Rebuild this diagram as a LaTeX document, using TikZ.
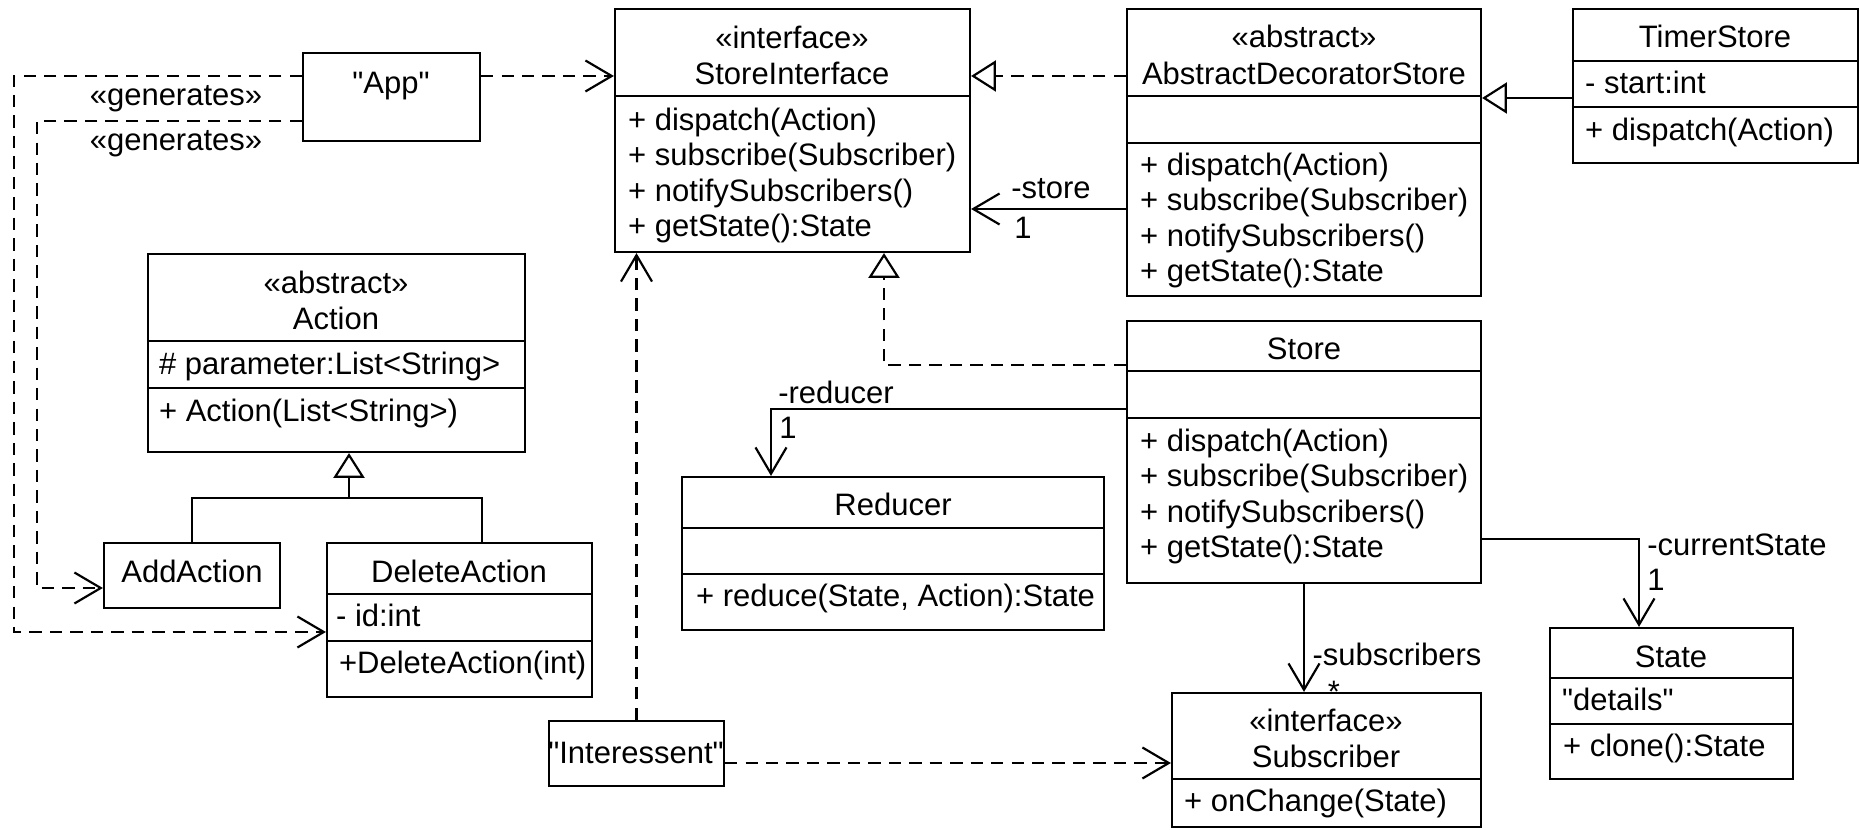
\documentclass[tikz,border=0pt]{standalone}
\usepackage{fontspec}
\setmainfont{Liberation Sans}[Ligatures=TeXOff]
\usetikzlibrary{arrows.meta,fit}
\tikzset{
  uml/.style={
    x=0.01134cm,
    y=-0.01134cm,
    line width=0.7pt,
    font=\fontsize{10pt}{12pt}\selectfont
  },
  uml-box/.style={
    draw=black,
    rectangle,
    inner sep=0pt
  },
  label-text/.style={
    inner sep=0pt,
    text height=0.75em,
    text depth=0.21em
  },
  member/.style={label-text, anchor=west},
  dep/.style={dash pattern=on 4pt off 2.6pt},
  open-head/.style={-{Straight Barb[length=8.5pt,width=10pt]}},
  hollow-head/.style={-{Triangle[open,length=8pt,width=10pt]}}
}

\begin{document}
\begin{tikzpicture}[uml]
  \useasboundingbox (0,0) rectangle (1860,830);
  % class frames
  \node[uml-box, fit={(615,9) (970,252)}] (si) {};
  \node[uml-box, fit={(1127,9) (1481,296)}] (abs) {};
  \node[uml-box, fit={(1573,9) (1858,163)}] (timer) {};
  \node[uml-box, fit={(148,254) (525,452)}] (action) {};
  \node[uml-box, fit={(104,543) (280,608)}] (addact) {};
  \node[uml-box, fit={(327,543) (592,697)}] (delact) {};
  \node[uml-box, fit={(682,477) (1104,630)}] (reducer) {};
  \node[uml-box, fit={(1127,321) (1481,583)}] (store) {};
  \node[uml-box, fit={(1550,628) (1793,779)}] (state) {};
  \node[uml-box, fit={(1172,693) (1481,827)}] (subscr) {};
  \node[uml-box, fit={(303,53) (480,141)}] (app) {};
  \node[uml-box, fit={(549,721) (724,786)}] (inter) {};
  \foreach \cls/\ypos in {si/96,abs/96,abs/143,timer/61,timer/107,action/341,action/388,
      delact/594,delact/641,reducer/528,reducer/574,store/371,store/418,state/678,state/724,subscr/779}
    \draw (\cls.west |- 0,\ypos) -- (\cls.east |- 0,\ypos);

  % class texts
  \node[label-text] (si-st) at (792,40) {«interface»};
  \node[label-text] (si-name) at (792,76) {StoreInterface};
  \node[label-text] (abs-st) at (1304,39) {«abstract»};
  \node[label-text] (abs-name) at (1304,76) {AbstractDecoratorStore};
  \node[label-text] (store-name) at (1304,351) {Store};
  \foreach \cls/\xpos/\ytop in {si/627/122,abs/1139/167,store/1139/443}
    \foreach \m [count=\i] in {dispatch(Action),subscribe(Subscriber),notifySubscribers(),getState():State}
      \node[member] (\cls-m\i) at (\xpos,\ytop+35.5*\i-35.5) {+ \m};
  \node[label-text] (timer-name) at (1715,39) {TimerStore};
  \node[member] (timer-a1) at (1584,85) {- start:int};
  \node[member] (timer-m1) at (1584,132) {+ dispatch(Action)};
  \node[label-text] (action-st) at (336,285) {«abstract»};
  \node[label-text] (action-name) at (336,321) {Action};
  \node[member] (action-a1) at (158,366) {\# parameter:List<String>};
  \node[member] (action-m1) at (158,413) {+ Action(List<String>)};
  \node[label-text] (addact-name) at (192,574) {AddAction};
  \node[label-text] (delact-name) at (459,574) {DeleteAction};
  \node[member] (delact-a1) at (335,618) {- id:int};
  \node[member] (delact-m1) at (338,665) {+DeleteAction(int)};
  \node[label-text] (reducer-name) at (893,507) {Reducer};
  \node[member] (reducer-m1) at (695,598) {+ reduce(State, Action):State};
  \node[label-text] (state-name) at (1671,659) {State};
  \node[member] (state-a1) at (1561,702) {"details"};
  \node[member] (state-m1) at (1562,748) {+ clone():State};
  \node[label-text] (subscr-st) at (1326,723) {«interface»};
  \node[label-text] (subscr-name) at (1326,759) {Subscriber};
  \node[member] (subscr-m1) at (1183,803) {+ onChange(State)};
  \node[label-text] (app-name) at (391,85) {"App"};
  \node[label-text] (inter-name) at (636,755) {"Interessent"};

  % dependencies
  \draw[dep, open-head] (app.east |- 0,76) -- (si.west |- 0,76);
  \draw[dep, open-head] (app.west |- 0,76) -- (14,76) |- (delact.west |- 0,632);
  \draw[dep, open-head] (app.west |- 0,121) -- (37,121) |- (addact.west |- 0,588);
  \draw[dep, open-head] (inter.north) -- (si.south -| inter.north);
  \draw[dep, open-head] (inter.east |- 0,763) -- (subscr.west |- 0,763);
  \node[label-text] (gen-del) at (176,97) {«generates»};
  \node[label-text] (gen-add) at (176,142) {«generates»};
  % realizations
  \draw[dep, hollow-head] (abs.west |- 0,76) -- (si.east |- 0,76);
  \draw[dep, hollow-head] (store.west |- 0,365) -| (si.south -| 884,0);
  % generalizations
  \draw[hollow-head] (timer.west |- 0,98) -- (abs.east |- 0,98);
  \coordinate (gen-join) at (349,498);
  \draw[hollow-head] (addact.north) |- (gen-join) -- (gen-join |- action.south);
  \draw (delact.north -| 482,0) |- (gen-join);
  % associations
  \draw[open-head] (abs.west |- 0,209) -- (si.east |- 0,209);
  \draw[open-head] (store.west |- 0,409) -| (reducer.north -| 771,0);
  \draw[open-head] (store.east |- 0,539) -| (state.north -| 1639,0);
  \draw[open-head] (store.south) -- (subscr.north -| store.south);
  \node[label-text] (store-role) at (1051,190) {-store};
  \node[label-text] (store-mult) at (1023,230) {1};
  \node[label-text] (reducer-role) at (836,395) {-reducer};
  \node[label-text] (reducer-mult) at (788,430) {1};
  \node[label-text] (state-role) at (1737,547) {-currentState};
  \node[label-text] (state-mult) at (1656,582) {1};
  \node[label-text] (subscr-role) at (1397,657) {-subscribers};
  \node[label-text] (subscr-mult) at (1334,694) {*};
\end{tikzpicture}
\end{document}
